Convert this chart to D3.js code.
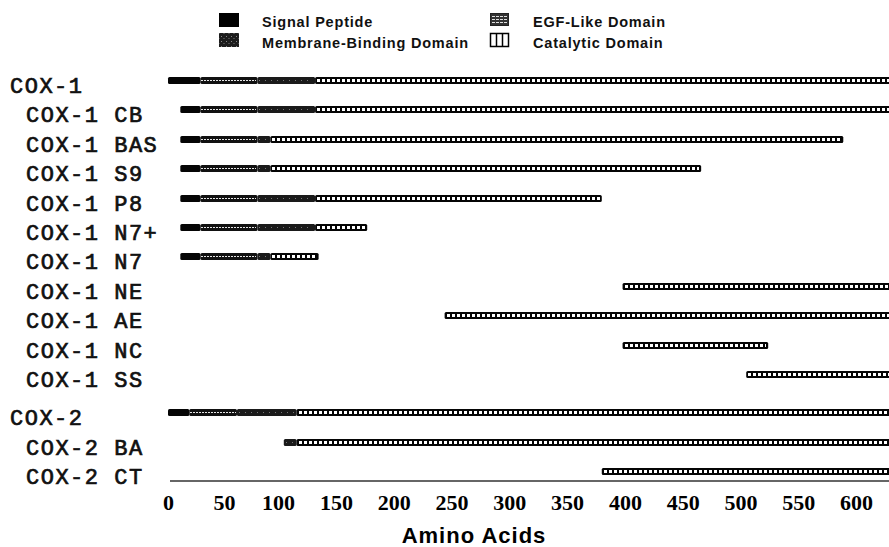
<!DOCTYPE html>
<html>
<head>
<meta charset="utf-8">
<script src="https://cdn.jsdelivr.net/npm/d3@7"></script>
<style>
  body { margin: 0; background: #fff; }
</style>
</head>
<body>
<script>
// rows, top to bottom
var rows = ["COX-1", "COX-1 CB", "COX-1 BAS", "COX-1 S9", "COX-1 P8", "COX-1 N7+", "COX-1 N7",
            "COX-1 NE", "COX-1 AE", "COX-1 NC", "COX-1 SS", "COX-2", "COX-2 BA", "COX-2 CT"];
var parents = ["COX-1", "COX-2"];

// domains: [row, first aa, last aa]
var signalPeptide = [["COX-1", 0, 29], ["COX-1 CB", 11, 29], ["COX-1 BAS", 11, 29], ["COX-1 S9", 11, 29],
                     ["COX-1 P8", 11, 29], ["COX-1 N7+", 11, 29], ["COX-1 N7", 11, 29], ["COX-2", 0, 19]];
var egfDomain = [["COX-1", 29, 81], ["COX-1 CB", 29, 81], ["COX-1 BAS", 29, 81], ["COX-1 S9", 29, 81],
                 ["COX-1 P8", 29, 81], ["COX-1 N7+", 29, 81], ["COX-1 N7", 29, 81], ["COX-2", 19, 62]];
var membraneDomain = [["COX-1", 81, 132], ["COX-1 CB", 81, 132], ["COX-1 BAS", 81, 93], ["COX-1 S9", 81, 93],
                      ["COX-1 P8", 81, 132], ["COX-1 N7+", 81, 132], ["COX-1 N7", 81, 93],
                      ["COX-2", 62, 116], ["COX-2 BA", 105, 116]];
var catalyticDomain = [["COX-1", 132, 640], ["COX-1 CB", 132, 640], ["COX-1 BAS", 93, 589], ["COX-1 S9", 93, 466],
                       ["COX-1 P8", 132, 380], ["COX-1 N7+", 132, 177], ["COX-1 N7", 93, 135],
                       ["COX-1 NE", 398, 640], ["COX-1 AE", 244, 640], ["COX-1 NC", 398, 524], ["COX-1 SS", 505, 640],
                       ["COX-2", 116, 640], ["COX-2 BA", 116, 640], ["COX-2 CT", 380, 640]];

var ticks = [0, 50, 100, 150, 200, 250, 300, 350, 400, 450, 500, 550, 600];
var legendLabels = ["Signal Peptide", "Membrane-Binding Domain", "EGF-Like Domain", "Catalytic Domain"];

var width = 889;
var height = 547;

var svg = d3.select("body").append("svg")
    .attr("width", width)
    .attr("height", height);

// the printed axis is not evenly spaced at the low end
var x = d3.scaleLinear()
    .domain([0, 50, 100, 150, 600])
    .range([168, 224, 278, 336, 856]);

// small extra gap before the COX-2 group
var rowSlot = rows.map(function(r, i) { return i + (i >= 11 ? 0.3 : 0); });
var y = d3.scaleLinear().domain([0, 13.3]).range([80, 471]);
// centre on a half pixel so the 7px bars sit on whole pixels
function yRow(name) { return Math.round(y(rowSlot[rows.indexOf(name)])) + 0.5; }

var barH = 7;

// patterns for legend swatches
var defs = svg.append("defs");
var hp = defs.append("pattern").attr("id", "hlines")
    .attr("patternUnits", "userSpaceOnUse").attr("width", 4).attr("height", 3);
hp.append("rect").attr("width", 4).attr("height", 3).attr("fill", "#333");
hp.append("rect").attr("y", 1).attr("width", 3).attr("height", 1).attr("fill", "#e0e0e0");
var sp = defs.append("pattern").attr("id", "speckle")
    .attr("patternUnits", "userSpaceOnUse").attr("width", 5).attr("height", 5);
sp.append("rect").attr("width", 5).attr("height", 5).attr("fill", "#1c1c1c");
sp.append("rect").attr("x", 1).attr("y", 1).attr("width", 1).attr("height", 1).attr("fill", "#888");
sp.append("rect").attr("x", 3.5).attr("y", 3).attr("width", 1).attr("height", 1).attr("fill", "#777");

// row labels
svg.selectAll("text.rowlabel")
    .data(rows)
  .enter().append("text")
    .attr("class", "rowlabel")
    .attr("x", function(d) { return parents.indexOf(d) >= 0 ? 10 : 26; })
    .attr("y", function(d) { return yRow(d) + 12.5; })
    .attr("font-family", "'Liberation Mono', 'Courier New', monospace")
    .attr("font-size", 22)
    .attr("letter-spacing", 1.5)
    .attr("fill", "#111")
    .attr("stroke", "#111")
    .attr("stroke-width", 0.7)
    .text(function(d) { return d; });

var bars = svg.append("g");

function baseBars(data, fill) {
  bars.append("g").selectAll("rect")
      .data(data)
    .enter().append("rect")
      .attr("x", function(d) { return x(d[1]); })
      .attr("y", function(d) { return yRow(d[0]) - barH / 2; })
      .attr("width", function(d) { return x(d[2]) - x(d[1]); })
      .attr("height", barH)
      .attr("rx", 1.5)
      .attr("fill", fill);
}

function centreLine(data, stroke, sw, dash, inset) {
  bars.append("g").selectAll("line")
      .data(data)
    .enter().append("line")
      .attr("x1", function(d) { return Math.round(x(d[1]) + inset); })
      .attr("x2", function(d) { return x(d[2]) - inset; })
      .attr("y1", function(d) { return yRow(d[0]); })
      .attr("y2", function(d) { return yRow(d[0]); })
      .attr("stroke", stroke)
      .attr("stroke-width", sw)
      .attr("stroke-dasharray", dash)
      .attr("shape-rendering", "crispEdges");
}

baseBars(signalPeptide, "#050505");
baseBars(egfDomain, "#111");
centreLine(egfDomain, "#e6e6e6", 1, "2,1", 1);
baseBars(membraneDomain, "#1a1a1a");
centreLine(membraneDomain, "#777", 1, "1,5", 2);
baseBars(catalyticDomain, "#050505");
centreLine(catalyticDomain, "#fff", 3, "3,2", 2);

// axis
svg.append("line")
    .attr("x1", x(0) + 2)
    .attr("x2", width)
    .attr("y1", 481)
    .attr("y2", 481)
    .attr("stroke", "#333")
    .attr("stroke-width", 1.3);

var axisG = svg.append("g")
    .attr("transform", "translate(0,494)")
    .call(d3.axisBottom(x).tickValues(ticks).tickSize(0).tickPadding(0).tickFormat(d3.format("d")));
axisG.select(".domain").remove();
axisG.selectAll("text")
    .attr("font-family", "'Liberation Serif', 'Times New Roman', serif")
    .attr("font-weight", "bold")
    .attr("font-size", 22)
    .attr("fill", "#000");

svg.append("text")
    .text("Amino Acids")
    .attr("x", 474)
    .attr("y", 543)
    .attr("text-anchor", "middle")
    .attr("font-family", "'Liberation Sans', Arial, sans-serif")
    .attr("font-weight", "bold")
    .attr("font-size", 22)
    .attr("letter-spacing", 1)
    .attr("fill", "#000");

// legend
var legend = svg.append("g");
legend.append("rect").attr("x", 219).attr("y", 13).attr("width", 20).attr("height", 14).attr("fill", "#000");
legend.append("rect").attr("x", 219).attr("y", 33).attr("width", 20).attr("height", 14).attr("fill", "url(#speckle)");
legend.append("rect").attr("x", 490.5).attr("y", 13.5).attr("width", 18).attr("height", 12)
    .attr("fill", "url(#hlines)").attr("stroke", "#222").attr("stroke-width", 1);
legend.append("rect").attr("x", 490.5).attr("y", 33.5).attr("width", 18).attr("height", 13)
    .attr("fill", "#fff").attr("stroke", "#000").attr("stroke-width", 1.5);
[496.5, 502.5].forEach(function(lx) {
  legend.append("line").attr("x1", lx).attr("x2", lx).attr("y1", 33.5).attr("y2", 46.5)
      .attr("stroke", "#000").attr("stroke-width", 1.5);
});

legend.selectAll("text")
    .data(legendLabels)
  .enter().append("text")
    .attr("x", function(d, i) { return i < 2 ? 262 : 533; })
    .attr("y", function(d, i) { return i % 2 === 0 ? 27 : 48; })
    .attr("font-family", "'Liberation Sans', Arial, sans-serif")
    .attr("font-weight", "bold")
    .attr("font-size", 14.5)
    .attr("letter-spacing", 0.8)
    .attr("fill", "#111")
    .text(function(d) { return d; });
</script>
</body>
</html>
